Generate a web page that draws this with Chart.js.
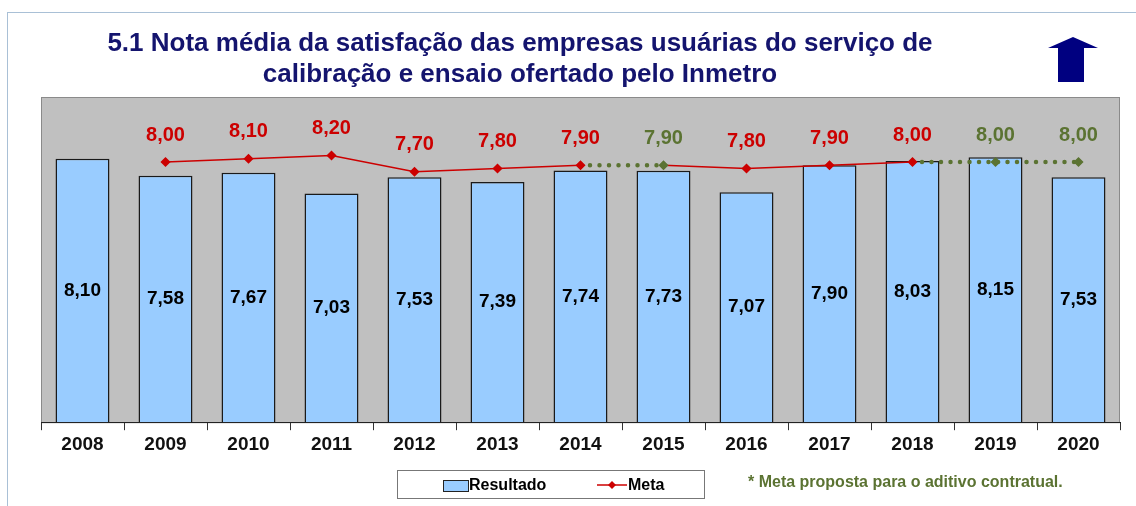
<!DOCTYPE html>
<html lang="pt">
<head>
  <meta charset="UTF-8" />
  <title>5.1 Nota média da satisfação</title>
  <script src="https://cdn.jsdelivr.net/npm/chart.js"></script>
  <style>
    html, body { margin: 0; padding: 0; background: #fff; }
    body { width: 1136px; height: 506px; position: relative; overflow: hidden; font-family: "Liberation Sans", Arial, sans-serif; }
    #frame { position: absolute; left: 7px; top: 12px; width: 1140px; height: 500px; border-left: 1px solid #a9c0d6; border-top: 1px solid #a9c0d6; }
    #title { position: absolute; left: 20px; width: 1000px; top: 27px; text-align: center; color: #14146e; font-weight: bold; font-size: 26px; line-height: 31px; }
    #arrow { position: absolute; left: 1047px; top: 37px; }
    #chartBox { position: absolute; left: 0; top: 0; width: 1136px; height: 506px; }
    #legend { position: absolute; left: 397px; top: 470px; width: 308px; height: 29px; border: 1px solid #777; box-sizing: border-box; font-weight: bold; font-size: 16px; color: #000; }
    #legend .sw { position: absolute; left: 45px; top: 9px; width: 24px; height: 10px; background: #99ccff; border: 1px solid #222; }
    #legend .t1 { position: absolute; left: 71px; top: 5px; }
    #legend .t2 { position: absolute; left: 230px; top: 5px; }
    #footnote { position: absolute; left: 748px; top: 473px; color: #5b7332; font-weight: bold; font-size: 16px; font-family: "Liberation Sans Narrow", "Liberation Sans", Arial, sans-serif; }
  </style>
</head>
<body>
  <div id="frame"></div>
  <div id="chartBox"><canvas id="chart" width="1136" height="506"></canvas></div>
  <div id="title">5.1 Nota média da satisfação das empresas usuárias do serviço de<br>calibração e ensaio ofertado pelo Inmetro</div>
  <svg id="arrow" width="52" height="46" viewBox="0 0 52 46">
    <polygon points="26,0 51,11 37,11 37,45 11,45 11,11 1,11" fill="#000080" />
  </svg>
  <div id="legend">
    <div class="sw"></div><span class="t1">Resultado</span>
    <svg style="position:absolute;left:198px;top:8px" width="32" height="12"><line x1="1" y1="6" x2="31" y2="6" stroke="#cc0000" stroke-width="1.5"/><polygon points="16,2 20,6 16,10 12,6" fill="#cc0000"/></svg>
    <span class="t2">Meta</span>
  </div>
  <div id="footnote">* Meta proposta para o aditivo contratual.</div>

  <script>
    const years = ['2008', '2009', '2010', '2011', '2012', '2013', '2014', '2015', '2016', '2017', '2018', '2019', '2020'];
    const resultado = [8.10, 7.58, 7.67, 7.03, 7.53, 7.39, 7.74, 7.73, 7.07, 7.90, 8.03, 8.15, 7.53];
    const meta = [null, 8.00, 8.10, 8.20, 7.70, 7.80, 7.90, 7.90, 7.80, 7.90, 8.00, 8.00, 8.00];
    // anos em que a meta é a proposta para o aditivo contratual
    const metaProposta = ['2015', '2019', '2020'];

    const RED = '#cc0000';
    const GREEN = '#5b7332';
    const isProp = i => metaProposta.includes(years[i]);
    const fmt = v => v.toFixed(2).replace('.', ',');

    // fundo cinza da área do gráfico
    const plotBg = {
      id: 'plotBg',
      beforeDraw(chart) {
        const { ctx, chartArea: a } = chart;
        ctx.save();
        ctx.fillStyle = '#c0c0c0';
        ctx.fillRect(a.left, a.top, a.right - a.left, a.bottom - a.top);
        ctx.strokeStyle = '#8a8a8a';
        ctx.lineWidth = 1;
        ctx.strokeRect(a.left + 0.5, a.top + 0.5, a.right - a.left - 1, a.bottom - a.top);
        ctx.restore();
      }
    };

    // rótulos de valores
    const valueLabels = {
      id: 'valueLabels',
      afterDatasetsDraw(chart) {
        const { ctx } = chart;
        ctx.save();
        ctx.textAlign = 'center';
        ctx.textBaseline = 'middle';
        ctx.font = 'bold 19px "Liberation Sans", Arial, sans-serif';
        ctx.fillStyle = '#000';
        chart.getDatasetMeta(0).data.forEach((bar, i) => {
          ctx.fillText(fmt(resultado[i]), bar.x, (bar.y + bar.base) / 2);
        });
        ctx.font = 'bold 20px "Liberation Sans", Arial, sans-serif';
        chart.getDatasetMeta(1).data.forEach((pt, i) => {
          if (meta[i] == null) return;
          ctx.fillStyle = isProp(i) ? GREEN : RED;
          ctx.fillText(fmt(meta[i]), pt.x, pt.y - 27);
        });
        ctx.restore();
      }
    };

    new Chart(document.getElementById('chart'), {
      type: 'bar',
      data: {
        labels: years,
        datasets: [{
          label: 'Resultado',
          data: resultado,
          backgroundColor: '#99ccff',
          borderColor: '#1a1a1a',
          borderWidth: 1.5,
          barPercentage: 0.65,
          categoryPercentage: 1,
          order: 2
        }, {
          type: 'line',
          label: 'Meta',
          data: meta,
          borderColor: RED,
          borderWidth: 1.5,
          pointStyle: 'rectRot',
          pointRadius: 4,
          pointBackgroundColor: years.map((y, i) => isProp(i) ? GREEN : RED),
          pointBorderColor: years.map((y, i) => isProp(i) ? GREEN : RED),
          spanGaps: false,
          tension: 0,
          order: 1,
          segment: {
            borderColor: c => isProp(c.p1DataIndex) ? GREEN : RED,
            borderDash: c => isProp(c.p1DataIndex) ? [0, 9.5] : undefined,
            borderWidth: c => isProp(c.p1DataIndex) ? 4.5 : 1.5
          },
          borderCapStyle: 'round'
        }]
      },
      options: {
        responsive: false,
        animation: false,
        layout: { padding: { left: 41, right: 16, top: 97, bottom: 47 } },
        plugins: { legend: { display: false }, tooltip: { enabled: false } },
        scales: {
          x: {
            offset: true,
            grid: { display: true, offset: true, drawOnChartArea: false, color: '#333', tickLength: 8 },
            border: { color: '#222', width: 1 },
            ticks: { color: '#111', font: { family: '"Liberation Sans", Arial, sans-serif', size: 19, weight: 'bold' }, padding: 3 }
          },
          y: {
            display: false,
            min: 0,
            max: 10
          }
        }
      },
      plugins: [plotBg, valueLabels]
    });
  </script>
</body>
</html>
